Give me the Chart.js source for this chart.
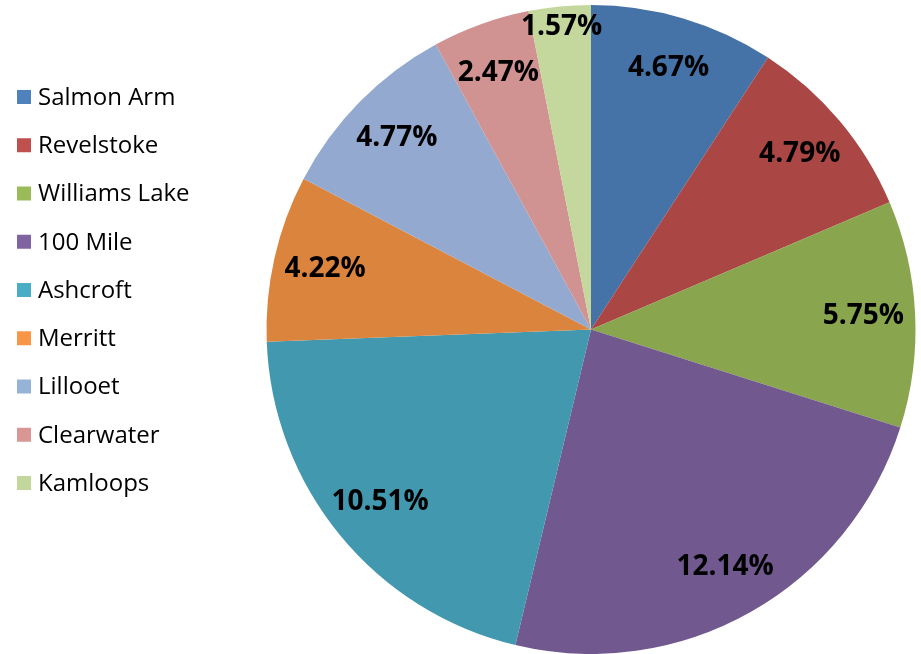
<!DOCTYPE html>
<html>
<head>
<meta charset="utf-8">
<script src="https://cdn.jsdelivr.net/npm/chart.js@4/dist/chart.umd.min.js"></script>
<style>
  body { margin: 0; background: #fff; }
  canvas { display: block; }
</style>
</head>
<body>
<canvas id="myChart" width="921" height="654"></canvas>
<script>
// regions and their shares (labels as shown on the slices)
const regions = ['Salmon Arm', 'Revelstoke', 'Williams Lake', '100 Mile', 'Ashcroft', 'Merritt', 'Lillooet', 'Clearwater', 'Kamloops'];
const shares = [4.67, 4.79, 5.75, 12.14, 10.51, 4.22, 4.77, 2.47, 1.57];

// slice colours (slightly darker than the legend swatches, like the original)
const sliceColors = ['#4572a7', '#aa4643', '#89a54e', '#71588f', '#4198af', '#db843d', '#93a9cf', '#d19392', '#c4d79c'];
const legendColors = ['#4f81bd', '#c0504d', '#9bbb59', '#8064a2', '#4bacc6', '#f79646', '#95b3d7', '#d99694', '#c3d69b'];

// draws the percentage text on each slice
const sliceLabels = {
    id: 'sliceLabels',
    afterDatasetsDraw(chart) {
        const ctx = chart.ctx;
        const meta = chart.getDatasetMeta(0);
        ctx.save();
        ctx.font = 'bold 28px "Open Sans", sans-serif';
        ctx.fillStyle = '#000';
        ctx.textAlign = 'center';
        ctx.textBaseline = 'middle';
        meta.data.forEach((arc, i) => {
            const p = arc.getProps(['x', 'y', 'startAngle', 'endAngle', 'outerRadius'], true);
            const mid = (p.startAngle + p.endAngle) / 2;
            // very thin slices get their label pushed out towards the rim
            const frac = (p.endAngle - p.startAngle) < 0.25 ? 0.935 : 0.84;
            const r = p.outerRadius * frac;
            ctx.fillText(shares[i].toFixed(2) + '%', p.x + Math.cos(mid) * r, p.y + Math.sin(mid) * r);
        });
        ctx.restore();
    }
};

// legend on the left, drawn by hand
const sideLegend = {
    id: 'sideLegend',
    afterDraw(chart) {
        const ctx = chart.ctx;
        ctx.save();
        ctx.font = '24px "Open Sans", sans-serif';
        ctx.textBaseline = 'middle';
        regions.forEach((name, i) => {
            const y = 97 + i * 48.25;
            ctx.fillStyle = legendColors[i];
            ctx.fillRect(17, y - 7, 14, 14);
            ctx.fillStyle = '#000';
            ctx.fillText(name, 38, y + 1);
        });
        ctx.restore();
    }
};

const ctx = document.getElementById('myChart').getContext('2d');
const chart = new Chart(ctx, {
    type: 'pie',
    data: {
        labels: regions,
        datasets: [{
            data: shares,
            backgroundColor: sliceColors,
            borderWidth: 0,
            hoverOffset: 0,
            offset: 0
        }]
    },
    options: {
        responsive: false,
        animation: false,
        layout: { padding: { left: 266, right: 5, top: 5, bottom: 0 } },
        plugins: {
            legend: { display: false },
            tooltip: { enabled: false }
        }
    },
    plugins: [sliceLabels, sideLegend]
});
</script>
</body>
</html>
